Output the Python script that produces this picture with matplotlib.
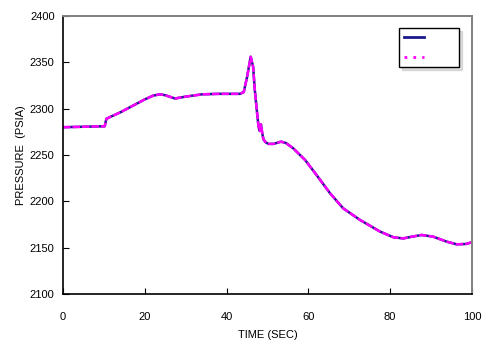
import matplotlib
matplotlib.use('Agg')
import matplotlib.pyplot as plt
from matplotlib.lines import Line2D

plt.rcParams['font.family'] = ['Liberation Sans', 'DejaVu Sans']

# pressure trace (time in s, pressure in psia)
time = [0, 5, 10.2, 10.6, 11.5, 14, 17, 20, 22, 23.7, 25, 27.4, 30, 34, 38,
        43.3, 44.2, 45.0, 45.9, 46.5, 46.9, 47.4, 47.8, 48.1, 48.4, 48.7,
        49.0, 49.5, 50.2, 51.5, 53.3, 54.5, 56.3, 59.2, 62.0, 65.3, 68.5,
        72.6, 77.5, 80.8, 83.2, 85.5, 87.7, 90.5, 93.8, 96.3, 98.5, 100]
pressure = [2280, 2280.5, 2281, 2289, 2291, 2296, 2303, 2310, 2314, 2315.5,
            2314.5, 2311, 2313, 2315.5, 2316, 2316, 2318, 2334, 2356, 2345,
            2320, 2298, 2281, 2276, 2283, 2274, 2267, 2264, 2262, 2262,
            2264.4, 2263, 2257.2, 2244.6, 2228.4, 2208.7, 2192.5, 2180,
            2167.4, 2161.2, 2160, 2162, 2163.7, 2161.9, 2156.5, 2153.6,
            2154, 2155.8]

fig = plt.figure(figsize=(4.83, 3.45), dpi=100)
ax = fig.add_axes([0.1304, 0.1478, 0.8468, 0.8058])

ax.plot(time, pressure, color='#1a1a8c', lw=1.8, solid_joinstyle='round')
ax.plot(time, pressure, color='#ff00ff', lw=1.8, dashes=(3, 0.8))

ax.set_xlim(0, 100)
ax.set_ylim(2100, 2400)
ax.set_xticks(range(0, 101, 20))
ax.set_yticks(range(2100, 2401, 50))
ax.tick_params(direction='in', length=4, width=0.8, labelsize=8)
ax.tick_params(axis='x', pad=13)
ax.tick_params(axis='y', pad=6)
for s in ['left', 'bottom']:
    ax.spines[s].set_color('black')
    ax.spines[s].set_linewidth(1.2)
for s in ['top', 'right']:
    ax.spines[s].set_color('#808080')
    ax.spines[s].set_linewidth(1.4)

ax.set_xlabel('TIME (SEC)', fontsize=8, labelpad=6)
ax.set_ylabel('PRESSURE  (PSIA)', fontsize=8, labelpad=3)

handles = [Line2D([], [], color='#1a1a8c', lw=2),
           Line2D([], [], color='#ff00ff', lw=2, dashes=(1, 2.2))]
leg = ax.legend(handles, ['       ', '       '], loc='upper right',
                bbox_to_anchor=(0.968, 0.957), frameon=True, fancybox=False,
                shadow={'shade': 0.25}, handlelength=1.8, handletextpad=0.8,
                labelspacing=0.9, borderpad=0.4, fontsize=8,
                borderaxespad=0)
leg.get_frame().set_edgecolor('black')
leg.get_frame().set_linewidth(1.0)

fig.savefig('out.png', dpi=100)
